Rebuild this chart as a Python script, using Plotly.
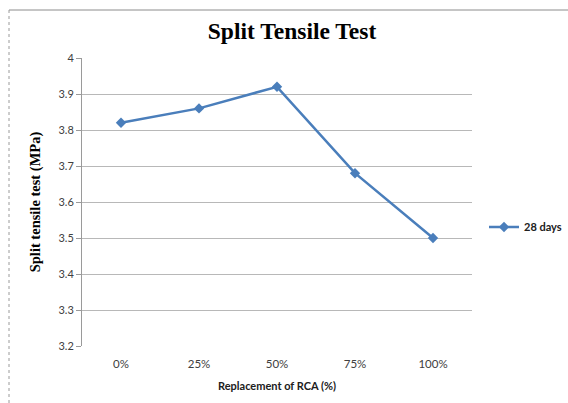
import plotly.graph_objects as go

replacement = ["0%", "25%", "50%", "75%", "100%"]
tensile_28d = [3.82, 3.86, 3.92, 3.68, 3.50]
series_name = "28 days"

W, H = 568, 403
L, R, T, B = 82, 96, 58, 57
pw, ph = W - L - R, H - T - B

def px_x(x):
    return (x - L) / pw

def px_y(y):
    return 1 - (y - T) / ph

blue = "#4a7ebb"

fig = go.Figure()
fig.add_trace(go.Scatter(
    x=replacement, y=tensile_28d, name="<b>" + series_name + "</b>",
    mode="lines+markers",
    line=dict(color=blue, width=2.5),
    marker=dict(symbol="diamond", size=8, color=blue),
))

# outer frame of the chart area
fig.add_shape(type="line", xref="paper", yref="paper",
              x0=px_x(9), x1=px_x(600), y0=px_y(10), y1=px_y(10),
              line=dict(color="#8c8c8c", width=1))
fig.add_shape(type="line", xref="paper", yref="paper",
              x0=px_x(9), x1=px_x(9), y0=px_y(10), y1=px_y(420),
              line=dict(color="#9a9a9a", width=1, dash="dot"))

fig.update_layout(
    width=W, height=H,
    margin=dict(l=L, r=R, t=T, b=B, autoexpand=False),
    paper_bgcolor="white", plot_bgcolor="white",
    title=dict(text="<b>Split Tensile Test</b>", x=292 / W, xanchor="center",
               y=1 - 31 / H, yanchor="middle",
               font=dict(family="Liberation Serif", size=23.5, color="black")),
    xaxis=dict(
        type="category", range=[-0.5, 4.5],
        showgrid=False, showline=False, ticks="", zeroline=False,
        ticklabelstandoff=9,
        tickfont=dict(family="Lato", size=11.5, color="#404040"),
        title=dict(text="<b>Replacement of RCA (%)</b>", standoff=13,
                   font=dict(family="Lato", size=11, color="#202020")),
    ),
    yaxis=dict(
        range=[3.2, 4.0], dtick=0.1, tick0=3.2,
        showgrid=True, gridcolor="#b8b8b8", gridwidth=1,
        showline=True, linecolor="#9a9a9a", linewidth=1,
        ticks="outside", ticklen=5, tickcolor="#9a9a9a",
        zeroline=False,
        tickfont=dict(family="Lato", size=11, color="#404040"),
        title=dict(text="<b>Split tensile test (MPa)</b>", standoff=14,
                   font=dict(family="Liberation Serif", size=14.5, color="black")),
    ),
    showlegend=True,
    legend=dict(x=px_x(484), y=px_y(227), xanchor="left", yanchor="middle",
                itemwidth=30, bgcolor="rgba(0,0,0,0)",
                font=dict(family="Lato", size=11, color="#202020")),
)

fig.write_html("out.html")
